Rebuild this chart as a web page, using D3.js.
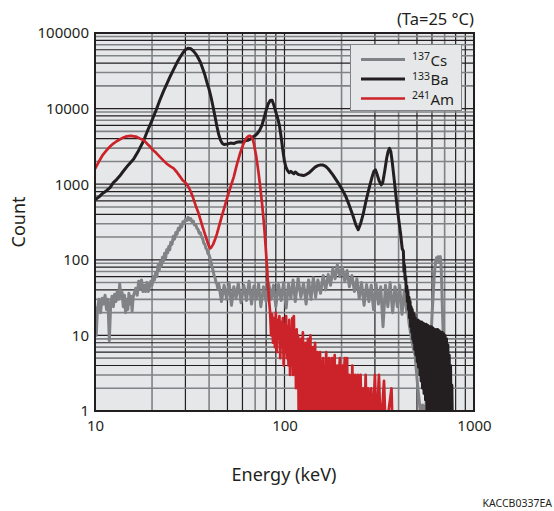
<!DOCTYPE html>
<html lang="en">
<head>
    <meta charset="UTF-8">
    <title>Energy spectra</title>
    <style>
        body { margin: 0; background: #fff; }
        text { font-family: "Noto Sans", "DejaVu Sans", sans-serif; fill: #231f20; }
    </style>
    <script src="https://d3js.org/d3.v7.min.js"></script>
</head>
<body>
    <script>
        const WIDTH = 554;
        const HEIGHT = 511;
        const LEFT = 95, RIGHT = 474, TOP = 33, BOTTOM = 411;

        const energyTicks = [10, 100, 1000];
        const countTicks = [1, 10, 100, 1000, 10000, 100000];

        // [energy keV, count]; 0.5 stands for an empty channel (below the axis)
        const cs137 = [
            [10,24],[10.15,10],[10.3,22],[10.5,30],[10.7,20],[10.9,31],[11.1,26],[11.3,34],[11.5,22],[11.7,30],
            [11.9,8.5],[12.1,26],[12.3,33],[12.5,24],[12.7,35],[12.9,28],[13.1,38],[13.3,30],[13.5,48],[13.7,32],
            [13.9,37],[14.1,24],[14.3,34],[14.5,20],[14.7,30],[14.9,22],[15.1,36],[15.3,26],[15.5,33],[15.7,21],
            [15.9,32],[16.1,36],[16.4,42],[16.7,34],[17,52],[17.3,42],[17.6,54],[17.9,38],[18.2,46],[18.5,38],
            [18.8,50],[19.1,38],[19.4,44],[19.7,52],[20,46],[20.3,60],[20.6,54],[20.9,68],[21.2,60],[21.5,84],
            [21.8,72],[22.1,94],[22.4,82],[22.7,108],[23,96],[23.3,122],[23.6,106],[23.9,136],[24.2,124],[24.5,150],
            [24.8,136],[25.1,170],[25.5,160],[25.9,205],[26.3,188],[26.7,230],[27.1,218],[27.5,262],[27.9,248],[28.3,288],
            [28.7,272],[29.1,318],[29.5,302],[30,345],[30.5,330],[31,365],[31.5,338],[32,352],[32.5,318],[33,326],
            [33.5,288],[34,292],[34.5,262],[35,252],[35.5,224],[36,228],[36.5,200],[37,190],[37.5,166],[38,160],
            [38.5,142],[39,136],[39.5,120],[40,116],[40.5,104],[41,92],[41.5,80],[42,72],[42.5,62],[43,58],
            [43.5,50],[44,48],[44.5,41],
            [45,48],[46.5,28],[48,46],[49.5,30],[51,50],[52.5,25],[54,44],[55.5,31],[57,49],[59,27],
            [61,46],[63,29],[65,52],[67,26],[69,45],[71,30],[73,48],[75,24],[77.5,44],[80,28],
            [82.5,49],[85,30],[87.5,46],[90,24],[93,47],[96,29],[99,50],[102,23],[105,48],[108,31],
            [111,54],[114,28],[118,57],[122,32],[126,49],[130,26],[134,54],[138,30],[142,58],[146,32],
            [150,54],[155,36],[160,62],[165,40],[170,64],[175,46],[180,76],[185,56],[190,86],[196,60],
            [202,80],[208,52],[214,72],[220,44],[227,62],[234,38],[241,56],[248,31],[255,50],[263,25],
            [271,47],[279,28],[287,46],[295,22],[304,48],[313,26],[322,44],[331,13],[341,46],[351,24],
            [361,50],[372,20],[383,44],[394,24],[405,46],[417,19],[429,40],[441,21],
            [448,20],[455,14],[462,11],[470,8.5],[480,6.5],[489,5.5],[496,3.5],[504,2.2],[512,1.5],[520,1],
            [535,1.2],[550,1],[565,1.5],[575,2.5],[585,5],[592,9],[598,15],[604,24],[610,38],[616,58],
            [622,78],[628,96],[634,106],[640,98],[646,110],[652,94],[658,104],[664,110],[670,86],[676,45],
            [682,20],[688,10],[694,5],[700,2.5],[706,1.3],[712,0.5]
        ];

        const ba133 = [
            [10,620],[10.5,680],[11,760],[11.5,820],[12,900],[12.5,1050],[13,1150],[13.5,1280],[14,1450],[15,1800],
            [16,2150],[17,2800],[18,3700],[19,5200],[20,7000],[21,9500],[22,13000],[23,17000],[24,21500],[25,27000],
            [26,33000],[27,40000],[28,47000],[29,54000],[30,60000],[31,63000],[32,62000],[33,58000],[34,53000],[35,47000],
            [36,41000],[37,34000],[38,28000],[39,22000],[40,18000],[41,14000],[42,10500],[43,7800],[44,5800],[45,4500],
            [46,3800],[47,3450],[48,3350],[50,3400],[52,3500],[54,3450],[56,3600],[58,3650],[60,3600],[62,3750],
            [64,3800],[66,3950],[68,4200],[70,4400],[72,4700],[74,5200],[76,6000],[78,7500],[80,9500],[82,11500],
            [84,12800],[86,12900],[88,11000],[90,9000],[92,7500],[94,6000],[96,4200],[98,2800],[100,2000],[102,1650],
            [104,1500],[106,1420],[108,1480],[110,1420],[112,1380],[114,1450],[116,1400],[118,1350],[122,1320],[126,1300],
            [130,1340],[135,1420],[140,1550],[145,1680],[150,1760],[155,1800],[160,1790],[165,1720],[170,1600],[180,1330],
            [190,1080],[200,880],[210,700],[220,520],[230,380],[238,290],[245,250],[252,300],[260,400],[270,620],
            [280,900],[290,1250],[296,1480],[302,1550],[308,1350],[316,1100],[324,980],[330,1050],[338,1500],[346,2200],
            [352,2700],[358,2980],[364,2700],[370,2000],[380,1100],[390,600],[400,350],[410,220],[418,140],
            [424,130],[427,70],[430,85],[433,55],[436,60],[439,38],[442,45],[445,28],[448,38],[451,22],
            [454,32],[457,17],[460,28],[463,13],[466,24],[469,11],[472,22],[475,9],[478,20],[481,8],
            [484,19],[487,6.5],[490,17],[494,5.5],[498,16],[502,4.5],[506,16],[510,3.8],[514,15.5],[518,3],
            [522,15],[526,2.5],[530,15],[535,2],[540,14.5],[545,1.7],[550,14],[555,1.4],[560,14],[566,0.5],
            [572,13.5],[578,0.5],[584,13],[590,0.5],[596,13],[602,0.5],[608,12.5],[614,0.5],[620,12],[626,0.5],
            [632,12],[638,0.5],[644,12],[650,0.5],[656,11.5],[662,0.5],[668,11],[674,0.5],[680,11],[686,0.5],
            [692,10.5],[698,0.5],[704,10],[710,0.5],[716,9],[722,0.5],[728,7.5],[734,0.5],[740,5.5],[746,0.5],
            [752,4],[758,0.5],[764,2.2],[770,0.5]
        ];

        const am241 = [
            [10,1600],[10.5,2000],[11,2450],[11.5,2800],[12,3150],[12.5,3450],[13,3700],[13.5,3900],[14,4100],[14.5,4250],
            [15,4320],[15.5,4350],[16,4300],[16.5,4250],[17,4100],[17.5,3950],[18,3850],[18.5,3600],[19,3350],[19.5,3150],
            [20,2900],[21,2600],[22,2300],[23,2050],[24,1850],[25,1720],[26,1620],[27,1450],[28,1280],[29,1130],
            [30,1050],[31,940],[32,800],[33,650],[34,520],[35,430],[36,340],[37,270],[38,220],[39,180],
            [40,150],[40.5,142],[41,145],[42,160],[43,185],[44,220],[45,270],[46,330],[47,400],[48,480],
            [49,570],[50,680],[51,800],[52,930],[53,1080],[54,1250],[55,1500],[56,1800],[57,2100],[58,2450],
            [59,2800],[60,3150],[61,3500],[62,3850],[63,4100],[64,4250],[65,4350],[66,4350],[67,4200],[68,3900],
            [69,3400],[70,2800],[71,2300],[72,1800],[73,1400],[74,1050],[75,780],[76,580],[77,410],[78,290],
            [79,190],[80,120],[81,75],[82,45],[83,28],[84,20],
            [85,10],[86,19],[87,8],[88,17],[89,7],[90,20],[91,6],[92,16],[93,9],[94,18],
            [95,5],[96,15],[97,7],[98,17],[99,4],[100,14],[101,6],[102,18],[103,5],[104,13],
            [105,4],[106,16],[107,3],[108,12],[109,5],[110,17],[111,3],[112,18],[113,4],[114,11],
            [115,2],[116,12],[117,3],[118,10],[119,0.5],[120,7],[121,1],[122,9],[123,0.5],[124,6],
            [125,11],[126,1],[127,7],[128,2],[129,8],[130,1],[131,0.5],[132,6],[133,9],[134,1],
            [135,7],[136,1],[137,10],[138,1],[139,0.5],[140,5],[141,7],[142,1],[143,6],[144,1],
            [145,8],[146,1],[147,0.5],[148,4],[149,6],[150,1],[151,5],[152,1],[154,6],[155,1],
            [157,0.5],[158,4],[160,5],[161,1],[163,4],[164,1],[166,6],[167,1],[169,0.5],[170,4],
            [172,5],[173,1],[175,3],[176,1],[178,5],[179,1],[181,0.5],[182,3],[184,5.5],[185,1],
            [187,3],[188,1],[190,4],[191,1],[193,0.5],[194,3],[196,5],[197,1],[199,3],[200,1],
            [202,4],[203,1],[205,0.5],[206,3],[208,5],[209,1],[211,3],[212,1],[214,5],[215,1],
            [217,0.5],[218,2],[220,3],[222,1],[224,2],[226,1],[228,4],[230,1],[232,0.5],[234,2],
            [236,3],[238,1],[240,2],[242,1],[244,3],[246,1],[248,0.5],[250,2],[252,3],[254,1],
            [256,2],[258,1],[260,2],[264,0.5],[268,3],[272,0.5],[277,2],[282,0.5],[287,2],
            [292,0.5],[300,3],[306,0.5],[315,3],[322,0.5],[335,2.5],[342,0.5],[367,2],[372,0.5]
        ];

        const seriesIsotopes = ["137", "133", "241"];
        const seriesElements = ["Cs", "Ba", "Am"];
        const seriesColors = ["#808285", "#231f20", "#cc2229"];

        const x = d3.scaleLog().domain([10, 1000]).range([LEFT, RIGHT]);
        const y = d3.scaleLog().domain([1, 100000]).range([BOTTOM, TOP]);

        const svg = d3.select("body").append("svg")
            .attr("width", WIDTH)
            .attr("height", HEIGHT);

        svg.append("defs").append("clipPath").attr("id", "plot")
            .append("rect")
            .attr("x", LEFT).attr("y", TOP)
            .attr("width", RIGHT - LEFT).attr("height", BOTTOM - TOP);

        svg.append("rect")
            .attr("x", LEFT).attr("y", TOP)
            .attr("width", RIGHT - LEFT).attr("height", BOTTOM - TOP)
            .attr("fill", "#e6e7e8");

        // leading digit of a grid value decides gray or black
        const lead = v => Math.round(v / Math.pow(10, Math.floor(Math.log10(v) + 1e-9)));
        const vGray = [2, 4, 7];
        const hGray = [2, 3, 5, 7, 9];

        svg.append("g").selectAll("line")
            .data(x.ticks())
            .join("line")
            .attr("x1", d => x(d)).attr("x2", d => x(d))
            .attr("y1", TOP).attr("y2", BOTTOM)
            .attr("stroke", d => vGray.includes(lead(d)) ? "#808285" : "#231f20")
            .attr("stroke-width", d => vGray.includes(lead(d)) ? 1.6 : 1.2);

        svg.append("g").selectAll("line")
            .data(y.ticks())
            .join("line")
            .attr("x1", LEFT).attr("x2", RIGHT)
            .attr("y1", d => y(d)).attr("y2", d => y(d))
            .attr("stroke", d => hGray.includes(lead(d)) ? "#808285" : "#231f20")
            .attr("stroke-width", d => hGray.includes(lead(d)) ? 1.6 : 1.2);

        const line = d3.line()
            .x(d => x(d[0]))
            .y(d => y(d[1]));

        const plot = svg.append("g").attr("clip-path", "url(#plot)");
        [cs137, ba133, am241].forEach((data, i) => {
            plot.append("path")
                .datum(data)
                .attr("d", line)
                .attr("fill", "none")
                .attr("stroke", seriesColors[i])
                .attr("stroke-width", i === 2 ? 2.7 : 3)
                .attr("stroke-linejoin", "round");
        });

        svg.append("rect")
            .attr("x", LEFT).attr("y", TOP)
            .attr("width", RIGHT - LEFT).attr("height", BOTTOM - TOP)
            .attr("fill", "none")
            .attr("stroke", "#231f20")
            .attr("stroke-width", 2);

        // axes
        const xAxis = svg.append("g")
            .attr("transform", `translate(0,${BOTTOM})`)
            .call(d3.axisBottom(x).tickValues(energyTicks).tickSize(0).tickPadding(9).tickFormat(d3.format("d")));
        const yAxis = svg.append("g")
            .attr("transform", `translate(${LEFT},0)`)
            .call(d3.axisLeft(y).tickValues(countTicks).tickSize(0).tickPadding(6).tickFormat(d3.format("d")));
        [xAxis, yAxis].forEach(a => {
            a.select(".domain").remove();
            a.selectAll("text")
                .attr("font-size", 15)
                .attr("font-family", "Noto Sans")
                .attr("fill", "#231f20");
        });

        svg.append("text")
            .attr("x", 284).attr("y", 481)
            .attr("text-anchor", "middle")
            .attr("font-size", 18)
            .text("Energy (keV)");

        svg.append("text")
            .attr("transform", "translate(25,222) rotate(-90)")
            .attr("text-anchor", "middle")
            .attr("font-size", 18)
            .text("Count");

        svg.append("text")
            .attr("x", RIGHT).attr("y", 25)
            .attr("text-anchor", "end")
            .attr("font-size", 16.5)
            .text("(Ta=25 °C)");

        svg.append("text")
            .attr("x", 552).attr("y", 507)
            .attr("text-anchor", "end")
            .attr("font-size", 10.5)
            .text("KACCB0337EA");

        // legend
        const legend = svg.append("g");
        legend.append("rect")
            .attr("x", 350.5).attr("y", 44.5)
            .attr("width", 111).attr("height", 66)
            .attr("fill", "#e6e7e8")
            .attr("stroke", "#808285")
            .attr("stroke-width", 1);

        seriesElements.forEach((el, i) => {
            const ly = 59.5 + i * 19.5;
            legend.append("line")
                .attr("x1", 361).attr("x2", 405)
                .attr("y1", ly).attr("y2", ly)
                .attr("stroke", seriesColors[i])
                .attr("stroke-width", i === 2 ? 2.7 : 3);
            legend.append("text")
                .attr("x", 412).attr("y", ly + 0.5)
                .attr("font-family", "Liberation Sans")
                .attr("font-size", 10.5)
                .text(seriesIsotopes[i]);
            legend.append("text")
                .attr("x", 430.5).attr("y", ly + 6)
                .attr("font-family", "Liberation Sans")
                .attr("font-size", 15)
                .text(el);
        });
    </script>
</body>
</html>
